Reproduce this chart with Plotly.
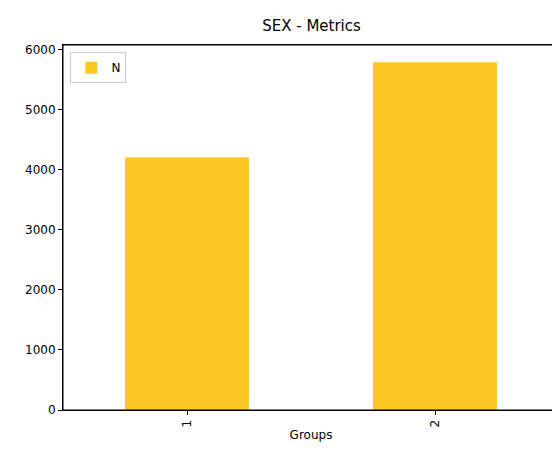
import plotly.graph_objects as go

groups = ["1", "2"]
n_values = [4208, 5787]

fig = go.Figure()
fig.add_trace(go.Bar(x=[0, 1], y=n_values, name="N", width=0.5,
                     marker=dict(color="#FFC726", line=dict(width=0))))

axis_common = dict(showline=True, linecolor="black", linewidth=1, mirror=True,
                   ticks="outside", ticklen=4, tickcolor="black", showgrid=False,
                   zeroline=False, automargin=False,
                   tickfont=dict(size=12, color="black"))

fig.update_layout(
    width=560, height=450,
    margin=dict(l=55, r=9, t=37, b=48),
    plot_bgcolor="white", paper_bgcolor="white",
    font=dict(family="DejaVu Sans", color="black"),
    title=dict(text="SEX - Metrics", x=0.542, xanchor="center",
               yref="container", y=0.96, yanchor="middle",
               font=dict(size=15)),
    xaxis=dict(axis_common, range=[-0.5, 1.5], tickvals=[0, 1], ticktext=groups,
               tickangle=-90, title=dict(text="Groups", font=dict(size=12), standoff=4)),
    yaxis=dict(axis_common, range=[0, 6075], tickvals=list(range(0, 7000, 1000))),
    showlegend=True,
    legend=dict(x=0.015, y=0.98, xanchor="left", yanchor="top",
                bordercolor="#cccccc", borderwidth=1, font=dict(size=12)),
    shapes=[dict(type="rect", xref="paper", yref="paper", x0=0, x1=1, y0=0, y1=1,
                 line=dict(color="black", width=1))],
)

fig.write_html("out.html")
